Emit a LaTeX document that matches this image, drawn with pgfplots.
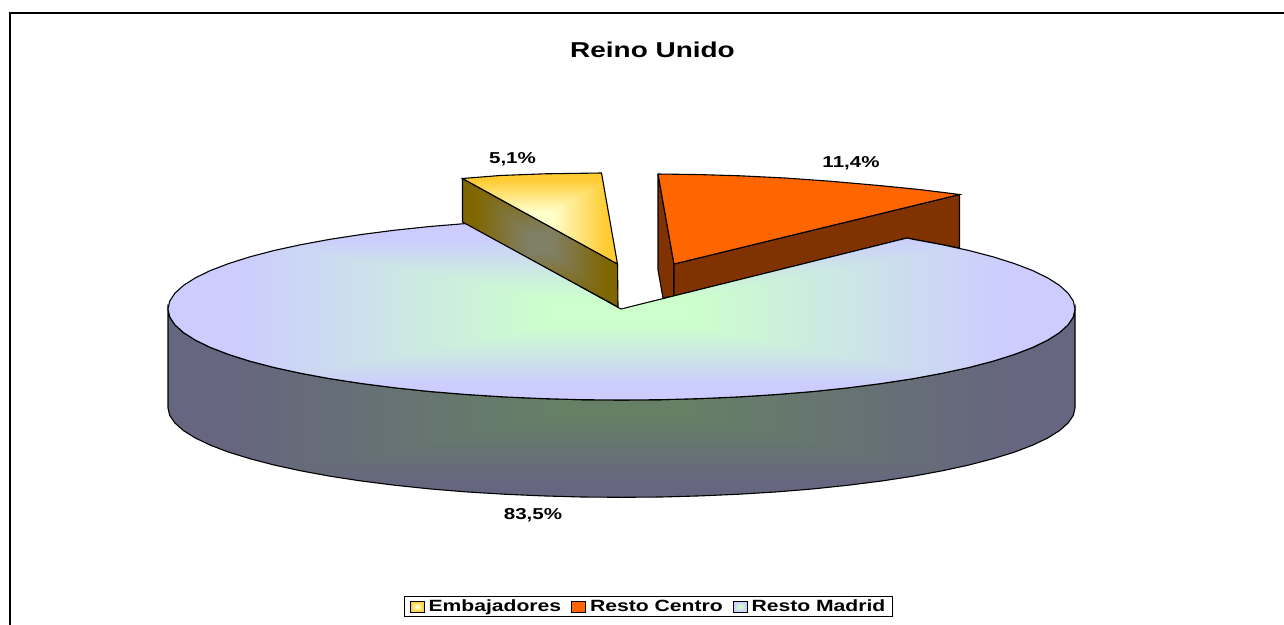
\documentclass[border=0pt]{standalone}
\usepackage{fontspec}
\setmainfont{Liberation Sans}
\newfontfamily\wide[FakeStretch=1.3]{Liberation Sans}
\usepackage{pgfplots}
\pgfplotsset{compat=1.18}
% value = max(|x|,|y|) from the centre of the shape's box: rectangular path gradient
\pgfdeclarefunctionalshading{bluetop}{\pgfpointorigin}{\pgfpoint{100bp}{100bp}}{}{
 50 sub abs 25 div exch 50 sub abs 25 div 2 copy lt {exch} if pop 0.15 sub 0.7 div dup 0 lt {pop 0} if dup 1 gt {pop 1} if
 dup 0.2 mul 0.8 add exch 0.2 mul 1 exch sub exch 0.8 3 1 roll
}
\pgfdeclarefunctionalshading{bluewall}{\pgfpointorigin}{\pgfpoint{100bp}{100bp}}{}{
 50 sub abs 25 div exch 50 sub abs 25 div 2 copy lt {exch} if pop 0.15 sub 0.7 div dup 0 lt {pop 0} if dup 1 gt {pop 1} if
 dup 0.1 mul 0.4 add exch 0.1 mul 0.5 exch sub exch 0.4 3 1 roll
}
\pgfdeclarefunctionalshading{yellowtop}{\pgfpointorigin}{\pgfpoint{100bp}{100bp}}{}{
 50 sub abs 25 div exch 50 sub abs 25 div 2 copy lt {exch} if pop 0.15 sub 0.7 div dup 0 lt {pop 0} if dup 1 gt {pop 1} if
 dup 0.2 mul 1 exch sub exch 0.6 mul 0.8 exch sub 1 3 1 roll
}
\pgfdeclarefunctionalshading{yellowwall}{\pgfpointorigin}{\pgfpoint{100bp}{100bp}}{}{
 50 sub abs 25 div exch 50 sub abs 25 div 2 copy lt {exch} if pop 0.15 sub 0.7 div dup 0 lt {pop 0} if dup 1 gt {pop 1} if
 dup 0.1 mul 0.5 exch sub exch 0.4 mul 0.4 exch sub dup 0 lt {pop 0} if 0.5 3 1 roll
}
\definecolor{orangetop}{HTML}{FF6600}
\definecolor{orangewall}{HTML}{803300}
\begin{document}
\begin{tikzpicture}
\path[use as bounding box] (0,0) rectangle (1284pt,624pt);
\begin{axis}[
  scale only axis, width=1284pt, height=624pt,
  xmin=0, xmax=1284, ymin=0, ymax=624, y dir=reverse,
  hide axis, clip=true,
  legend columns=-1,
  legend cell align=left,
  legend style={at={(axis cs:648.5,606.5)}, anchor=center, draw=black, line width=0.8pt,
    font=\wide\bfseries\fontsize{16.25}{19}\selectfont, inner xsep=5pt, inner ysep=1pt,
    /tikz/every even column/.append style={column sep=8pt}},
  legend image code/.code={\path[draw=black,line width=1pt,#1] (0pt,-5.5pt) rectangle (14pt,5.5pt); \path (16pt,0pt);},
]
% frame
\addplot[black, line width=2.4pt, forget plot] coordinates {(10,630) (10,13) (1290,13)};
% Resto Madrid: wall
\addplot[draw=black, line width=1.1pt, shade, shading=bluewall, forget plot] coordinates {
 (168,309) (169.7,316.9) (174.9,324.8) (183.5,332.6) (195.3,340.1) (210.5,347.5) (228.8,354.5) (250.0,361.2) (274.1,367.5) (300.8,373.3) (330.0,378.7) (361.4,383.5) (394.7,387.8) (429.8,391.5) (466.4,394.5) (504.1,396.9) (542.8,398.6) (582.0,399.7) (621.5,400)
 (661.0,399.7) (700.2,398.6) (738.9,396.9) (776.6,394.5) (813.2,391.5) (848.3,387.8) (881.6,383.5) (913.0,378.7) (942.2,373.3) (968.9,367.5) (993.0,361.2) (1014.2,354.5) (1032.5,347.5) (1047.7,340.1) (1059.5,332.6) (1068.1,324.8) (1073.3,316.9) (1075,309)
 (1075,408) (1073.3,415.4) (1068.1,423.0) (1059.5,430.6) (1047.7,438.0) (1032.5,445.2) (1014.2,452.2) (993.0,458.7) (968.9,465.0) (942.2,470.8) (913.0,476.2) (881.6,481.0) (848.3,485.2) (813.2,488.9) (776.6,491.9) (738.9,494.2) (700.2,495.9) (661.0,497) (621.5,497.3)
 (582.0,497) (542.8,495.9) (504.1,494.2) (466.4,491.9) (429.8,488.9) (394.7,485.2) (361.4,481.0) (330.0,476.2) (300.8,470.8) (274.1,465.0) (250.0,458.7) (228.8,452.2) (210.5,445.2) (195.3,438.0) (183.5,430.6) (174.9,423.0) (169.7,415.4) (168,408)
} -- cycle;
% Resto Centro: walls and top
\addplot[draw=black, line width=1.1pt, fill=orangewall, forget plot] coordinates {(658,174) (658,270) (663,298) (674,296) (674,264)} -- cycle;
\addplot[draw=black, line width=1.1pt, fill=orangewall, forget plot] coordinates {(674,264) (959.5,194.5) (959.5,248) (907,238) (674,296)} -- cycle;
\addplot[draw=black, line width=1.1pt, fill=orangetop, forget plot] coordinates {(658,174) (700,174.6) (740,175.8) (785,178) (830,181.2) (880,185.6) (920,189.6) (959.5,194.5) (674,264)} -- cycle;
% Resto Madrid: top
\addplot[draw=black, line width=1.1pt, shade, shading=bluetop, forget plot] coordinates {
 (621,309) (466.4,223.5) (429.8,226.5) (394.7,230.2) (361.4,234.5) (330.0,239.3) (300.8,244.7) (274.1,250.5) (250.0,256.8) (228.8,263.5) (210.5,270.5) (195.3,277.9) (183.5,285.4) (174.9,293.2) (169.7,301.1) (168,309)
 (169.7,316.9) (174.9,324.8) (183.5,332.6) (195.3,340.1) (210.5,347.5) (228.8,354.5) (250.0,361.2) (274.1,367.5) (300.8,373.3) (330.0,378.7) (361.4,383.5) (394.7,387.8) (429.8,391.5) (466.4,394.5) (504.1,396.9) (542.8,398.6) (582.0,399.7) (621.5,400)
 (661.0,399.7) (700.2,398.6) (738.9,396.9) (776.6,394.5) (813.2,391.5) (848.3,387.8) (881.6,383.5) (913.0,378.7) (942.2,373.3) (968.9,367.5) (993.0,361.2) (1014.2,354.5) (1032.5,347.5) (1047.7,340.1) (1059.5,332.6) (1068.1,324.8) (1073.3,316.9) (1075,309)
 (1073.3,301.1) (1068.1,293.2) (1059.5,285.4) (1047.7,277.9) (1032.5,270.5) (1014.2,263.5) (993.0,256.8) (968.9,250.5) (942.2,244.7) (913.0,239.3) (907,238)
} -- cycle;
% Embajadores: wall and top
\addplot[draw=black, line width=1.1pt, shade, shading=yellowwall, forget plot] coordinates {(462.5,178.5) (617.5,264) (618,307) (462.5,222)} -- cycle;
\addplot[draw=black, line width=1.1pt, shade, shading=yellowtop, forget plot] coordinates {(462.5,178.5) (500,175.5) (545,173.8) (601.5,173) (617.5,264)} -- cycle;
% legend
\addlegendimage{shade, shading=yellowtop}
\addlegendimage{fill=orangetop}
\addlegendimage{shade, shading=bluetop}
\legend{Embajadores,Resto Centro,Resto Madrid}
% text
\node[font=\wide\bfseries\fontsize{21.5}{24}\selectfont] at (axis cs:652.5,50) {Reino Unido};
\node[font=\wide\bfseries\fontsize{15.8}{18}\selectfont] at (axis cs:512.5,159.5) {5,1\%};
\node[font=\wide\bfseries\fontsize{15.8}{18}\selectfont] at (axis cs:851,163.5) {11,4\%};
\node[font=\wide\bfseries\fontsize{15.8}{18}\selectfont] at (axis cs:533,515) {83,5\%};
\end{axis}
\end{tikzpicture}
\end{document}
